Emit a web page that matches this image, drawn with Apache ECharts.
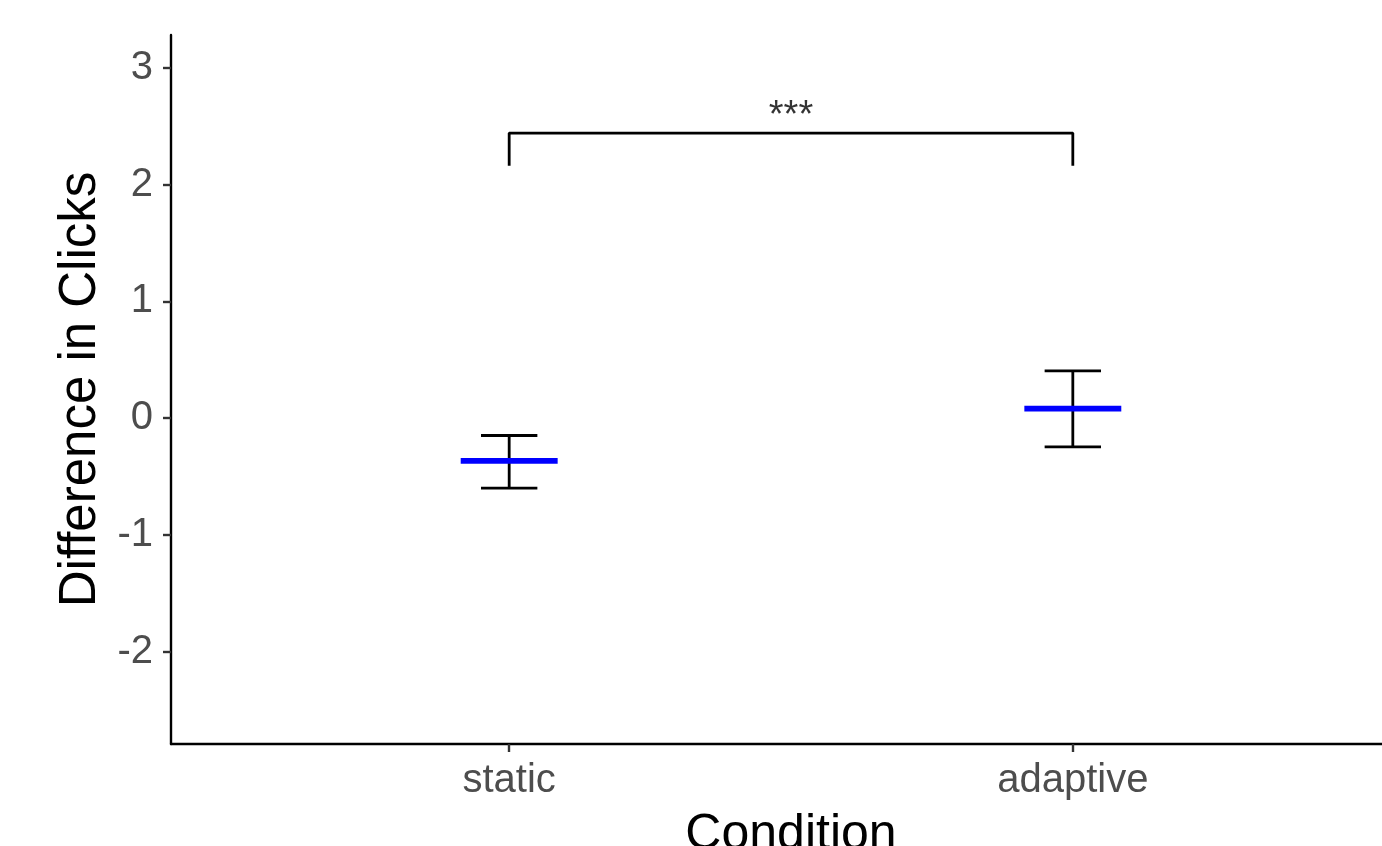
<!DOCTYPE html>
<html>
<head>
<meta charset="utf-8">
<script src="https://cdn.jsdelivr.net/npm/echarts@6/dist/echarts.min.js"></script>
<style>
html,body{margin:0;padding:0;background:#fff;overflow:hidden;}
#chart{width:1382px;height:846px;}
</style>
</head>
<body>
<div id="chart"></div>
<script>
// Data
const categories = ['static', 'adaptive'];
const categoryPos = [1, 2];
const means = [-0.366, 0.082];
const lower = [-0.600, -0.246];
const upper = [-0.149, 0.405];
const yTicks = [-2, -1, 0, 1, 2, 3];
const bracketPair = [1, 2];
const bracketLow = 2.16;
const bracketHigh = 2.44;
const sigLabel = '***';
const sigLabelY = 2.58;

const FONT = '"Liberation Sans", Arial, "DejaVu Sans", sans-serif';

const errData = categories.map((c, i) => [categoryPos[i], lower[i], upper[i], means[i]]);

const chart = echarts.init(document.getElementById('chart'), null, {renderer: 'canvas'});
chart.setOption({
  animation: false,
  backgroundColor: '#ffffff',
  grid: {left: 171, right: -29, top: 35, bottom: 102, containLabel: false, outerBoundsMode: 'none'},
  xAxis: {
    type: 'value', min: 0.4, max: 2.6,
    name: 'Condition', nameLocation: 'middle', nameGap: 66,
    nameTextStyle: {fontFamily: FONT, fontSize: 50, color: '#000'},
    axisLine: {show: true, onZero: false, lineStyle: {color: '#000', width: 2.4}},
    axisTick: {show: true, customValues: categoryPos, length: 8, lineStyle: {color: '#333', width: 2.4}},
    axisLabel: {show: true, customValues: categoryPos, margin: 17, fontFamily: FONT, fontSize: 40, color: '#4d4d4d',
      formatter: v => categories[categoryPos.indexOf(v)] || ''},
    splitLine: {show: false}
  },
  yAxis: {
    type: 'value', min: -2.79, max: 3.28,
    name: 'Difference in Clicks', nameLocation: 'middle', nameGap: 55,
    nameTextStyle: {fontFamily: FONT, fontSize: 51, color: '#000'},
    axisLine: {show: true, onZero: false, lineStyle: {color: '#000', width: 2.4}},
    axisTick: {show: true, customValues: yTicks, length: 8, lineStyle: {color: '#333', width: 2.4}},
    axisLabel: {show: true, customValues: yTicks, margin: 18, fontFamily: FONT, fontSize: 40, color: '#4d4d4d'},
    splitLine: {show: false}
  },
  series: [
    {
      type: 'custom',
      data: errData,
      clip: false,
      renderItem: function (params, api) {
        const x = api.value(0), lo = api.value(1), hi = api.value(2), m = api.value(3);
        const pLo = api.coord([x, lo]);
        const pHi = api.coord([x, hi]);
        const pM = api.coord([x, m]);
        const capHalf = api.size([0.05, 0])[0];
        const meanHalf = api.size([0.086, 0])[0];
        const black = {stroke: '#000', lineWidth: 2.8, fill: null};
        return {
          type: 'group',
          children: [
            {type: 'line', shape: {x1: pLo[0], y1: pLo[1], x2: pHi[0], y2: pHi[1]}, style: black},
            {type: 'line', shape: {x1: pHi[0] - capHalf, y1: pHi[1], x2: pHi[0] + capHalf, y2: pHi[1]}, style: black},
            {type: 'line', shape: {x1: pLo[0] - capHalf, y1: pLo[1], x2: pLo[0] + capHalf, y2: pLo[1]}, style: black},
            {type: 'line', shape: {x1: pM[0] - meanHalf, y1: pM[1], x2: pM[0] + meanHalf, y2: pM[1]}, style: {stroke: '#0000ff', lineWidth: 5.7}}
          ]
        };
      }
    },
    {
      type: 'line',
      data: [[bracketPair[0], bracketLow], [bracketPair[0], bracketHigh], [bracketPair[1], bracketHigh], [bracketPair[1], bracketLow]],
      symbol: 'none',
      lineStyle: {color: '#000', width: 2.8},
      silent: true
    },
    {
      type: 'scatter',
      data: [[(bracketPair[0] + bracketPair[1]) / 2, sigLabelY]],
      symbolSize: 0,
      silent: true,
      label: {show: true, position: 'inside', formatter: sigLabel, fontFamily: FONT, fontSize: 38, color: '#000'}
    }
  ]
});
</script>
</body>
</html>
